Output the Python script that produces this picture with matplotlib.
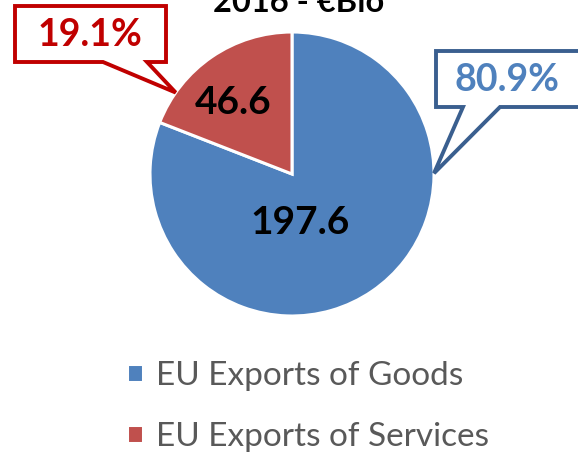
import matplotlib
matplotlib.use("Agg")
import matplotlib.pyplot as plt
from matplotlib.patches import Polygon
import numpy as np

plt.rcParams['font.family'] = ['Lato', 'DejaVu Sans']

labels = ['EU Exports of Goods', 'EU Exports of Services']
values = [197.6, 46.6]
colors = ['#4F81BD', '#C0504D']
title = '2016 - €Bio'

W, H = 578, 454
fig = plt.figure(figsize=(W / 100, H / 100), dpi=100)
ax = fig.add_axes([0, 0, 1, 1])

# pie centre and radius in pixels, axes scaled so that radius == 1
cx, cy, R = 292, 174, 142

def px(x, y):
    return (x - cx) / R, (cy - y) / R

wedges, _ = ax.pie(values, colors=colors, startangle=90, counterclock=False,
                   radius=1, wedgeprops=dict(edgecolor='white', linewidth=2.2))
ax.set_xlim(-cx / R, (W - cx) / R)
ax.set_ylim(-(H - cy) / R, cy / R)
ax.set_aspect('equal')
ax.axis('off')

total = sum(values)
pcts = [v / total * 100 for v in values]

# value labels inside the slices
ax.text(*px(300, 222), f'{values[0]:.1f}', ha='center', va='center',
        fontsize=28, fontweight='bold', color='black')
ax.text(*px(233, 103), f'{values[1]:.1f}', ha='center', va='center',
        fontsize=28, fontweight='bold', color='black')

ax.text(*px(299, 12), title, ha='center', va='baseline',
        fontsize=23.5, fontweight='bold', color='black')


def callout(box, tail, tip_angle, edge, text, tcolor):
    x0, y0, x1, y1 = box
    tl, tr = tail
    tip = (np.cos(np.radians(tip_angle)), np.sin(np.radians(tip_angle)))
    pts = [px(x0, y0), px(x1, y0), px(x1, y1), px(tr, y1), tip,
           px(tl, y1), px(x0, y1)]
    ax.add_patch(Polygon(pts, closed=True, facecolor='white', edgecolor=edge,
                         linewidth=2.8, joinstyle='miter', zorder=3))
    ax.text(*px((x0 + min(x1, W)) / 2, (y0 + y1) / 2 + 1), text, ha='center',
            va='center', fontsize=27, fontweight='bold', color=tcolor, zorder=4)


callout((15, 6, 166, 62), (103, 147), 145, '#C00000', f'{pcts[1]:.1f}%', '#C00000')
callout((436, 51, 600, 107), (463, 500), 0.3, '#3A5F8F', f'{pcts[0]:.1f}%', '#4F81BD')

ax.legend(wedges, labels, loc='upper left', bbox_to_anchor=(127 / W, 1 - 361 / H),
          frameon=False, fontsize=24, labelcolor='#595959',
          handlelength=0.48, handleheight=0.48, handletextpad=0.4,
          labelspacing=0.93, borderpad=0, borderaxespad=0)

fig.savefig('out.png', dpi=100)
